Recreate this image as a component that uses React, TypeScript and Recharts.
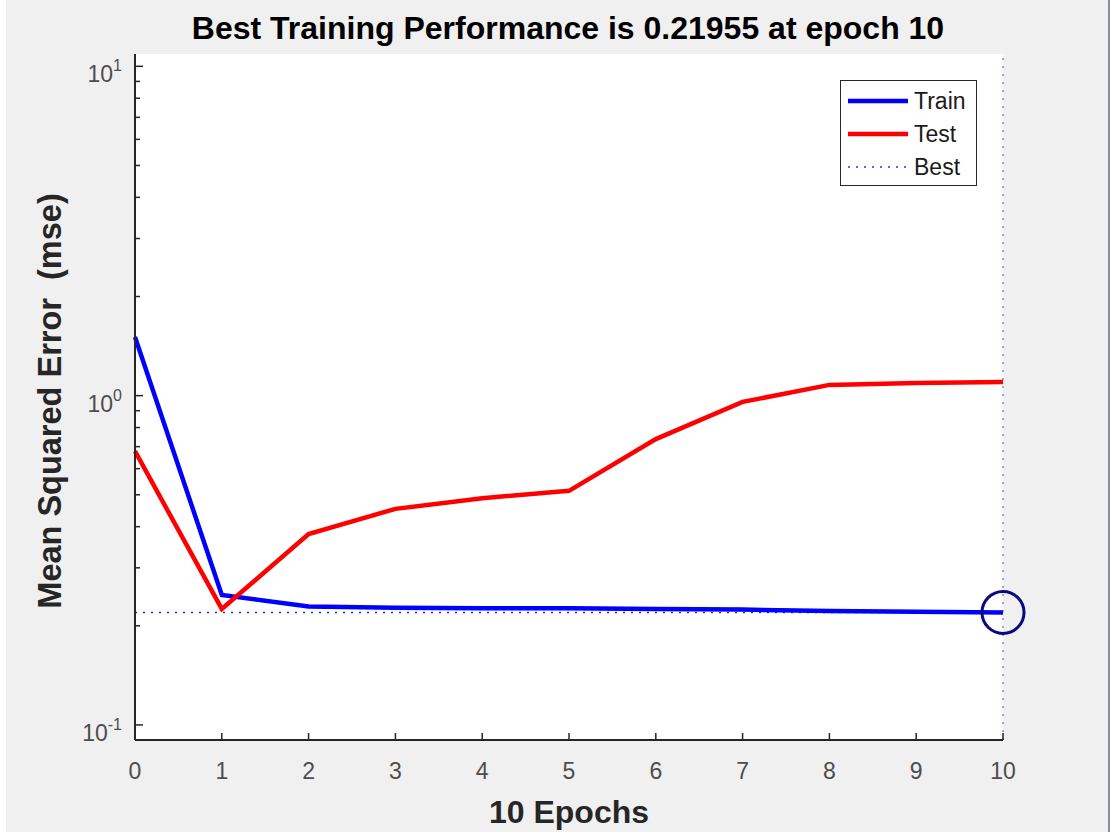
import { Legend, Line, LineChart, ReferenceDot, ReferenceLine, XAxis, YAxis, CartesianGrid } from "recharts";

const EPOCHS = [0, 1, 2, 3, 4, 5, 6, 7, 8, 9, 10];
const TRAIN = [1.507, 0.248, 0.229, 0.227, 0.226, 0.226, 0.225, 0.224, 0.222, 0.2205, 0.21955];
const TEST = [0.678, 0.225, 0.38, 0.453, 0.488, 0.514, 0.738, 0.957, 1.078, 1.093, 1.1];
const BEST_EPOCH = 10;
const BEST_PERF = 0.21955;

const X_TICKS = [0, 1, 2, 3, 4, 5, 6, 7, 8, 9, 10];
const Y_MAJOR = [0.1, 1, 10];
const Y_TICKS = [0.1, 0.2, 0.3, 0.4, 0.5, 0.6, 0.7, 0.8, 0.9, 1, 2, 3, 4, 5, 6, 7, 8, 9, 10];

const LEGEND_ITEMS = [
  { name: "Train", color: "#0000ff", dotted: false },
  { name: "Test", color: "#ff0000", dotted: false },
  { name: "Best", color: "#3030c0", dotted: true },
];

const data = EPOCHS.map((e, i) => ({ epoch: e, train: TRAIN[i], test: TEST[i] }));

const FONT = '"Liberation Sans", Arial, Helvetica, sans-serif';
const AXIS_COLOR = "#262626";
const TICK_COLOR = "#4d4d4d";

// log axis: short inward ticks everywhere, labels 10^n only on the decades
function YTick(props: any) {
  const { x, y, payload } = props;
  const v = payload.value;
  const major = Y_MAJOR.some((m) => Math.abs(m - v) < 1e-9);
  const exp = Math.round(Math.log10(v));
  return (
    <g>
      <line x1={x} x2={x + (major ? 8 : 5)} y1={y} y2={y} stroke={AXIS_COLOR} strokeWidth={1.5} />
      {major && (
        <text x={x - 13} y={y + 16} textAnchor="end" fontFamily={FONT} fontSize={23} fill={TICK_COLOR}>
          10
          <tspan dy={-11} fontSize={16}>
            {exp}
          </tspan>
        </text>
      )}
    </g>
  );
}

function XTick(props: any) {
  const { x, y, payload } = props;
  return (
    <g>
      <line x1={x} x2={x} y1={y} y2={y - 7} stroke={AXIS_COLOR} strokeWidth={1.5} />
      <text x={x} y={y + 39} textAnchor="middle" fontFamily={FONT} fontSize={23} fill={TICK_COLOR}>
        {payload.value}
      </text>
    </g>
  );
}

function LegendBox() {
  return (
    <div style={{ width: 137, height: 106, boxSizing: "border-box", border: `1.5px solid ${AXIS_COLOR}`, background: "#fff" }}>
      <svg width={134} height={103}>
        {LEGEND_ITEMS.map((it, i) => {
          const cy = 20 + i * 33;
          return (
            <g key={it.name}>
              <line
                x1={7}
                x2={67}
                y1={cy}
                y2={cy}
                stroke={it.color}
                strokeWidth={it.dotted ? 1.5 : 4.5}
                strokeDasharray={it.dotted ? "2 6" : undefined}
              />
              <text x={73} y={cy + 8} fontFamily={FONT} fontSize={23} fill="#1a1a1a">
                {it.name}
              </text>
            </g>
          );
        })}
      </svg>
    </div>
  );
}

export default function App() {
  return (
    <div style={{ position: "absolute", left: 0, top: 0, width: 1112, height: 838, background: "#fff" }}>
      <div
        style={{
          position: "absolute",
          left: 6,
          top: 0,
          width: 1102,
          height: 832,
          background: "#f0f0f0",
          borderRight: "2px solid #8a9099",
        }}
      >
        <div
          style={{
            position: "absolute",
            left: 562,
            top: 12,
            transform: "translateX(-50%)",
            whiteSpace: "nowrap",
            fontFamily: FONT,
            fontWeight: "bold",
            fontSize: 32,
            lineHeight: "32px",
            color: "#000",
          }}
        >
          Best Training Performance is 0.21955 at epoch 10
        </div>
        <LineChart width={1102} height={832} data={data} margin={{ top: 54, right: 105, left: 0, bottom: 0 }}>
          <CartesianGrid horizontal={false} vertical={false} fill="#ffffff" />
          <XAxis
            dataKey="epoch"
            type="number"
            domain={[0, 10]}
            ticks={X_TICKS}
            interval={0}
            height={92}
            tickSize={0}
            tickMargin={0}
            tickLine={false}
            axisLine={{ stroke: AXIS_COLOR, strokeWidth: 2 }}
            tick={<XTick />}
            label={{
              content: (p: any) => {
                const vb = p.viewBox;
                return (
                  <text
                    x={vb.x + vb.width / 2}
                    y={823}
                    textAnchor="middle"
                    fontFamily={FONT}
                    fontWeight="bold"
                    fontSize={32}
                    fill={AXIS_COLOR}
                  >
                    10 Epochs
                  </text>
                );
              },
            }}
          />
          <YAxis
            type="number"
            scale="log"
            domain={[0.09, 10.9]}
            allowDataOverflow
            ticks={Y_TICKS}
            interval={0}
            width={129}
            tickSize={0}
            tickMargin={0}
            tickLine={false}
            axisLine={{ stroke: AXIS_COLOR, strokeWidth: 2 }}
            tick={<YTick />}
            label={{
              content: () => (
                <text
                  x={55}
                  y={401}
                  transform="rotate(-90 55 401)"
                  textAnchor="middle"
                  fontFamily={FONT}
                  fontWeight="bold"
                  fontSize={32.5}
                  fill={AXIS_COLOR}
                  style={{ whiteSpace: "pre" }}
                >
                  {"Mean Squared Error \u00a0(mse)"}
                </text>
              ),
            }}
          />
          <ReferenceLine y={BEST_PERF} stroke="#2a2ac0" strokeWidth={1.5} strokeDasharray="2 6" />
          <ReferenceLine x={BEST_EPOCH} stroke="#8888dc" strokeWidth={1.5} strokeDasharray="2 6" />
          <Line
            type="linear"
            dataKey="train"
            name="Train"
            stroke="#0000ff"
            strokeWidth={4.5}
            dot={false}
            isAnimationActive={false}
          />
          <Line
            type="linear"
            dataKey="test"
            name="Test"
            stroke="#ff0000"
            strokeWidth={4.5}
            dot={false}
            isAnimationActive={false}
          />
          <ReferenceDot
            x={BEST_EPOCH}
            y={BEST_PERF}
            r={21}
            fill="none"
            stroke="#0a0a80"
            strokeWidth={3}
            ifOverflow="visible"
          />
          <Legend
            layout="horizontal"
            verticalAlign="middle"
            align="center"
            content={() => <LegendBox />}
            wrapperStyle={{ position: "absolute", left: 834, top: 80, width: 137, height: 106 }}
          />
        </LineChart>
      </div>
    </div>
  );
}
